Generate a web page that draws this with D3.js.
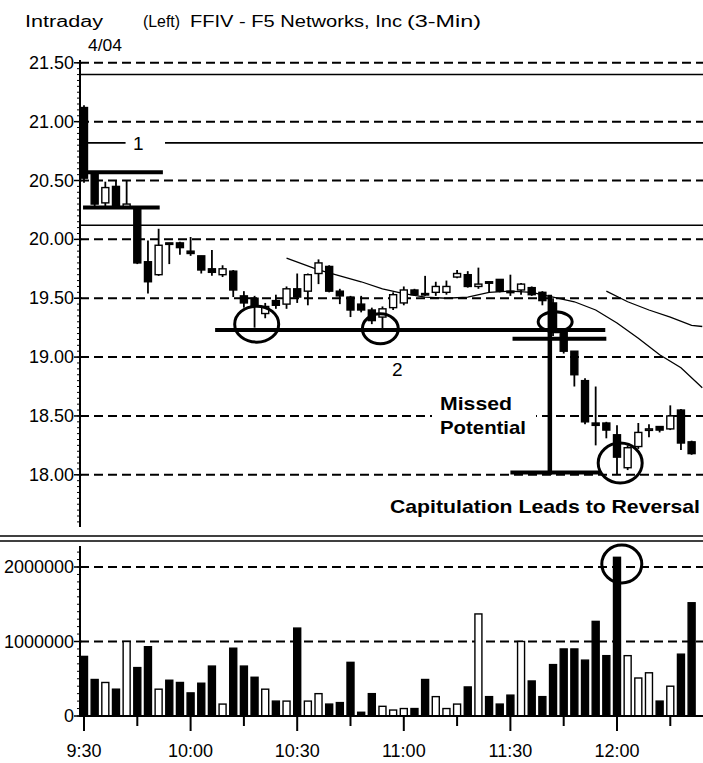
<!DOCTYPE html>
<html><head><meta charset="utf-8">
<script src="https://cdn.jsdelivr.net/npm/d3@7"></script>
<style>
body{margin:0;background:#fff}
svg{display:block}
text{font-family:"Liberation Sans",Arial,Helvetica,sans-serif;fill:#000}
</style>
</head><body>
<svg id="chart" width="703" height="763"></svg>
<script>
// ---------- DATA ----------
const openP  = [21.12,20.56,20.31,20.45,20.27,20.27,19.81,19.70,19.97,19.97,19.90,19.86,19.75,19.70,19.73,19.52,19.50,19.37,19.48,19.45,
                19.58,19.56,19.71,19.77,19.56,19.51,19.45,19.40,19.34,19.42,19.46,19.57,19.54,19.55,19.55,19.68,19.70,19.60,19.64,19.66,
                19.56,19.57,19.59,19.55,19.46,19.22,19.05,18.80,18.44,18.44,18.34,18.06,18.24,18.38,18.41,18.39,18.55,18.28];
const highP  = [21.14,20.58,20.49,20.50,20.50,20.27,19.99,20.09,19.97,19.98,20.02,19.86,19.91,19.78,19.74,19.56,19.52,19.46,19.53,19.60,
                19.71,19.71,19.83,19.78,19.58,19.52,19.52,19.42,19.43,19.55,19.60,19.58,19.69,19.64,19.65,19.74,19.73,19.76,19.64,19.66,
                19.70,19.63,19.60,19.56,19.50,19.22,19.05,18.82,18.75,18.45,18.42,18.25,18.44,18.43,18.41,18.59,18.56,18.29];
const lowP   = [20.48,20.28,20.28,20.27,20.26,19.79,19.54,19.69,19.79,19.87,19.86,19.71,19.69,19.68,19.51,19.42,19.25,19.33,19.41,19.41,
                19.46,19.44,19.62,19.55,19.45,19.34,19.38,19.28,19.24,19.40,19.44,19.52,19.52,19.52,19.53,19.67,19.59,19.58,19.55,19.55,
                19.52,19.53,19.52,19.44,19.18,19.03,18.75,18.43,18.25,18.31,18.00,18.04,18.22,18.32,18.36,18.38,18.21,18.17];
const closeP = [20.52,20.30,20.44,20.28,20.30,19.80,19.64,19.95,19.96,19.93,19.88,19.74,19.72,19.75,19.57,19.46,19.44,19.43,19.44,19.58,
                19.51,19.70,19.80,19.56,19.52,19.40,19.40,19.31,19.41,19.53,19.57,19.53,19.53,19.60,19.60,19.71,19.60,19.62,19.63,19.56,
                19.55,19.62,19.53,19.48,19.22,19.05,18.85,18.45,18.42,18.38,18.15,18.23,18.36,18.39,18.38,18.50,18.27,18.18];
const volumeM = [0.80,0.49,0.45,0.36,1.00,0.65,0.93,0.36,0.48,0.45,0.31,0.44,0.67,0.16,0.91,0.67,0.52,0.36,0.20,0.20,
                 1.18,0.20,0.30,0.16,0.18,0.72,0.05,0.30,0.13,0.08,0.10,0.10,0.49,0.26,0.10,0.16,0.39,1.37,0.26,0.16,
                 0.28,1.00,0.47,0.26,0.69,0.90,0.90,0.75,1.27,0.81,2.13,0.81,0.51,0.58,0.20,0.40,0.83,1.52]; // millions of shares

// moving-average style lines (bar index -> price)
const maLowerBars   = [19,22,24,26,28,30,32,34,36,38,40,42,44,46,48,50,52,54,56,58];
const maLowerValues = [19.84,19.74,19.69,19.64,19.58,19.54,19.51,19.50,19.51,19.55,19.56,19.55,19.51,19.47,19.40,19.29,19.16,19.02,18.91,18.74];
const maUpperBars   = [49,51,53,55,57,58];
const maUpperValues = [19.56,19.47,19.40,19.34,19.27,19.26];

const priceTicks  = [18.0,18.5,19.0,19.5,20.0,20.5,21.0,21.5];
const volumeTicks = [0,1000000,2000000];
const timeLabels  = ["9:30","10:00","10:30","11:00","11:30","12:00"];

// annotation levels
const thinLevels = [21.40,20.12];
const levelOne = 20.82;

// ---------- SCALES ----------
const svg = d3.select("#chart");
const t0 = new Date(2000,3,4,9,30);
const tAt = m => new Date(t0.getTime() + m*60000);
const barTime = i => tAt(3*i);
const x = d3.scaleTime().domain([t0, tAt(180)]).range([84, 84 + 180*3.5533]);
const xb = i => x(barTime(i));
const y = d3.scaleLinear().domain([18, 21.5]).range([474.8, 62.8]);
const yv = d3.scaleLinear().domain([0, 2000000]).range([716, 567]);

const axisX = 80, rightX = 703;
const bars = openP.map((o,i)=>({i, o, h:highP[i], l:lowP[i], c:closeP[i], v:volumeM[i]*1e6}));

// ---------- TITLE ----------
const title = (tx, xx, len, fs) => svg.append("text").attr("x",xx).attr("y",27).attr("font-size",fs)
  .attr("textLength",len).attr("lengthAdjust","spacingAndGlyphs").text(tx);
title("Intraday", 25, 78, 16);
title("(Left)", 143, 37, 16);
title("FFIV - F5 Networks, Inc", 190, 212, 16);
title("(3-Min)", 407, 74, 16);
svg.append("text").attr("x",88).attr("y",51).attr("font-size",16).attr("textLength",34).attr("lengthAdjust","spacingAndGlyphs").text("4/04");

// ---------- PRICE PANEL GRID ----------
const g = svg.append("g");
g.selectAll(".pg").data(priceTicks).join("line")
  .attr("x1",axisX).attr("x2",rightX).attr("y1",d=>y(d)).attr("y2",d=>y(d))
  .attr("stroke","#000").attr("stroke-width",2).attr("stroke-dasharray","9,5");
g.selectAll(".tl").data(thinLevels).join("line")
  .attr("x1",axisX).attr("x2",rightX).attr("y1",d=>y(d)).attr("y2",d=>y(d))
  .attr("stroke","#000").attr("stroke-width",1.6);
// level "1"
g.append("line").attr("x1",axisX).attr("x2",xb(3.9)).attr("y1",y(levelOne)).attr("y2",y(levelOne)).attr("stroke","#000").attr("stroke-width",1.6);
g.append("line").attr("x1",xb(7.6)).attr("x2",rightX).attr("y1",y(levelOne)).attr("y2",y(levelOne)).attr("stroke","#000").attr("stroke-width",1.6);
g.append("text").attr("x",xb(5.1)).attr("y",y(levelOne)+7).attr("text-anchor","middle").attr("font-size",19).text("1");

// price axis
g.append("line").attr("x1",axisX).attr("x2",axisX).attr("y1",60).attr("y2",527).attr("stroke","#000").attr("stroke-width",2);
const minorP = d3.range(0, 80).map(k => +(17.55 + k*0.05).toFixed(2)).filter(p => p <= 21.5 && y(p) <= 527);
g.selectAll(".mp").data(minorP).join("line")
  .attr("x1",axisX-3).attr("x2",axisX).attr("y1",d=>y(d)).attr("y2",d=>y(d)).attr("stroke","#000").attr("stroke-width",1);
g.selectAll(".Mp").data(priceTicks).join("line")
  .attr("x1",axisX-6).attr("x2",axisX+2).attr("y1",d=>y(d)).attr("y2",d=>y(d)).attr("stroke","#000").attr("stroke-width",1.5);
g.selectAll(".pl").data(priceTicks).join("text")
  .attr("x",74).attr("y",d=>y(d)+6).attr("text-anchor","end").attr("font-size",18)
  .text(d=>d3.format(".2f")(d));

// ---------- MOVING AVERAGE LINES ----------
const maLine = d3.line().x(d=>xb(d[0])).y(d=>y(d[1]));
g.append("path").attr("d", maLine(maLowerBars.map((b,k)=>[b,maLowerValues[k]])))
  .attr("fill","none").attr("stroke","#000").attr("stroke-width",1.3);
g.append("path").attr("d", maLine(maUpperBars.map((b,k)=>[b,maUpperValues[k]])))
  .attr("fill","none").attr("stroke","#000").attr("stroke-width",1.3);

// ---------- CANDLES ----------
const bw = 7;
const cg = g.append("g");
cg.selectAll(".wick").data(bars).join("line")
  .attr("x1",d=>xb(d.i)).attr("x2",d=>xb(d.i)).attr("y1",d=>y(d.h)).attr("y2",d=>y(d.l))
  .attr("stroke","#000").attr("stroke-width",1.8);
cg.selectAll(".body").data(bars).join("rect")
  .attr("x",d=>xb(d.i)-bw/2).attr("width",bw)
  .attr("y",d=>y(Math.max(d.o,d.c)))
  .attr("height",d=>Math.max(1.5, Math.abs(y(d.o)-y(d.c))))
  .attr("fill",d=>d.c>=d.o?"#fff":"#000").attr("stroke","#000").attr("stroke-width",1.4);

// ---------- ANNOTATIONS (price panel) ----------
const thick = (b0,b1,p) => g.append("line").attr("x1",xb(b0)).attr("x2",xb(b1)).attr("y1",y(p)).attr("y2",y(p)).attr("stroke","#000").attr("stroke-width",4);
thick(-0.375, 7.4, 20.57);
thick(-0.09, 7.1, 20.27);
thick(12.3, 48.9, 19.23);
thick(40.2, 49.0, 19.155);
thick(40.0, 48.4, 18.02);
g.append("line").attr("x1",xb(43.7)).attr("x2",xb(43.7)).attr("y1",y(19.53)).attr("y2",y(18.0))
  .attr("stroke","#000").attr("stroke-width",4.5);
g.append("text").attr("x",xb(29.4)).attr("y",y(18.84)).attr("text-anchor","middle").attr("font-size",19).text("2");

const circles = [[16.2,19.28,22,18],[27.8,19.24,18,15],[44.2,19.30,17,10],[50.3,18.10,22,20]];
g.selectAll(".circ").data(circles).join("ellipse")
  .attr("cx",d=>xb(d[0])).attr("cy",d=>y(d[1])).attr("rx",d=>d[2]).attr("ry",d=>d[3])
  .attr("fill","none").attr("stroke","#000").attr("stroke-width",3);

g.append("rect").attr("x",432).attr("y",392).attr("width",104).attr("height",46).attr("fill","#fff");
g.append("text").attr("x",440).attr("y",410).attr("font-size",19).attr("font-weight","bold").attr("textLength",72).attr("lengthAdjust","spacingAndGlyphs").text("Missed");
g.append("text").attr("x",440).attr("y",434).attr("font-size",19).attr("font-weight","bold").attr("textLength",86).attr("lengthAdjust","spacingAndGlyphs").text("Potential");
g.append("text").attr("x",390).attr("y",513).attr("font-size",19).attr("font-weight","bold").attr("textLength",310).attr("lengthAdjust","spacingAndGlyphs").text("Capitulation Leads to Reversal");

// ---------- PANEL SEPARATOR ----------
svg.append("line").attr("x1",0).attr("x2",703).attr("y1",536).attr("y2",536).attr("stroke","#000").attr("stroke-width",1.5);
svg.append("line").attr("x1",0).attr("x2",703).attr("y1",541).attr("y2",541).attr("stroke","#000").attr("stroke-width",1.5);

// ---------- VOLUME PANEL ----------
const vg = svg.append("g");
vg.selectAll(".vg").data(volumeTicks.filter(d=>d>0)).join("line")
  .attr("x1",axisX).attr("x2",rightX).attr("y1",d=>yv(d)).attr("y2",d=>yv(d))
  .attr("stroke","#000").attr("stroke-width",2).attr("stroke-dasharray","9,5");
vg.selectAll(".vbar").data(bars).join("rect")
  .attr("x",d=>xb(d.i)-3.5).attr("width",7)
  .attr("y",d=>yv(d.v)).attr("height",d=>yv(0)-yv(d.v))
  .attr("fill",d=>d.c>=d.o?"#fff":"#000").attr("stroke","#000").attr("stroke-width",1.4);
vg.append("line").attr("x1",axisX).attr("x2",rightX).attr("y1",yv(0)).attr("y2",yv(0)).attr("stroke","#000").attr("stroke-width",2);
vg.append("line").attr("x1",axisX).attr("x2",axisX).attr("y1",546).attr("y2",717).attr("stroke","#000").attr("stroke-width",2);
const minorV = d3.range(0, 23).map(k=>k*100000);
vg.selectAll(".mv").data(minorV).join("line")
  .attr("x1",axisX-3).attr("x2",axisX).attr("y1",d=>yv(d)).attr("y2",d=>yv(d)).attr("stroke","#000").attr("stroke-width",1);
vg.selectAll(".Mv").data(volumeTicks).join("line")
  .attr("x1",axisX-6).attr("x2",axisX+2).attr("y1",d=>yv(d)).attr("y2",d=>yv(d)).attr("stroke","#000").attr("stroke-width",1.5);
vg.selectAll(".vl").data(volumeTicks).join("text")
  .attr("x",74).attr("y",d=>yv(d)+6).attr("text-anchor","end").attr("font-size",18)
  .text(d=>String(d));
vg.append("ellipse").attr("cx",xb(50.45)).attr("cy",yv(2040000)).attr("rx",20).attr("ry",19)
  .attr("fill","none").attr("stroke","#000").attr("stroke-width",3);

// ---------- TIME AXIS ----------
const timeTicks = x.ticks(d3.timeMinute.every(15)).filter(t => t <= tAt(165));
vg.selectAll(".tt").data(timeTicks).join("line")
  .attr("x1",d=>x(d)).attr("x2",d=>x(d)).attr("y1",716)
  .attr("y2",d=>d.getMinutes()%30===0?731:726)
  .attr("stroke","#000").attr("stroke-width",2);
const fmt = d3.timeFormat("%-I:%M");
const labelTicks = timeTicks.filter(t => timeLabels.includes(fmt(t)));
vg.selectAll(".tlab").data(labelTicks).join("text")
  .attr("x",d=>x(d)).attr("y",757).attr("text-anchor","middle").attr("font-size",18)
  .text(d=>fmt(d));
</script>
</body></html>
